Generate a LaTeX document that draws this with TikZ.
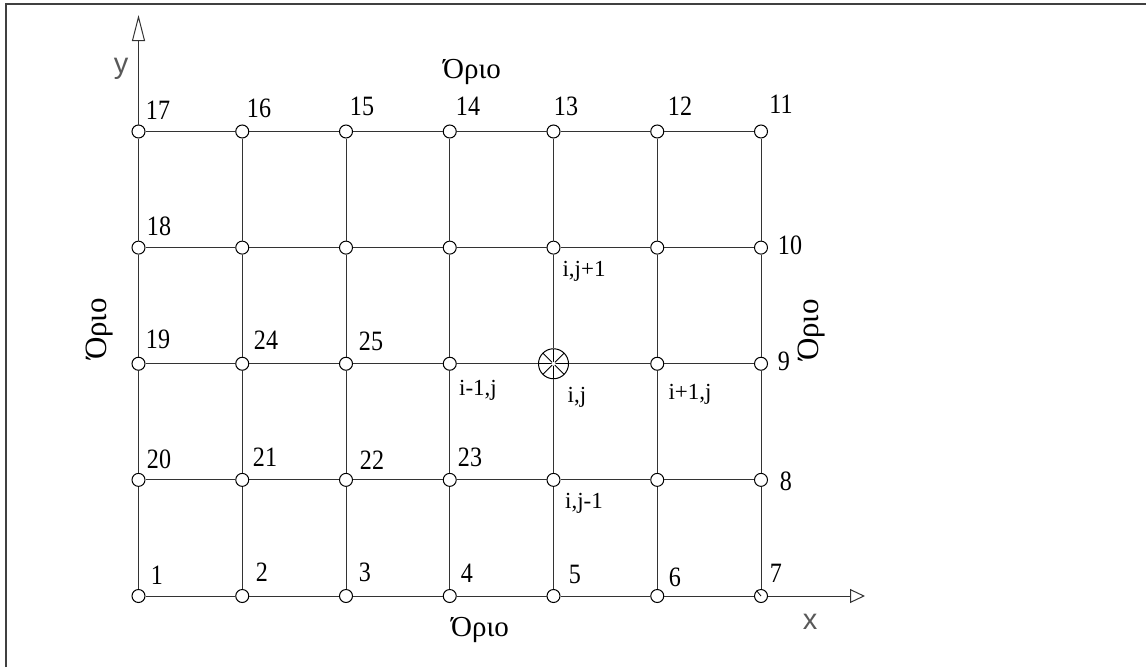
\documentclass[tikz,border=0pt]{standalone}
\usepackage{fontspec}
\setmainfont{Liberation Serif}
\newfontfamily\numfont[FakeStretch=0.86]{Liberation Serif}
\newfontfamily\axfont{Liberation Sans}
\usetikzlibrary{arrows.meta}
\begin{document}
\begin{tikzpicture}[x=1pt,y=-1pt,
  pt/.style={circle,draw,fill=white,minimum size=13pt,inner sep=0pt,line width=1pt},
  bigpt/.style={circle,draw,fill=white,minimum size=30pt,inner sep=0pt,line width=1pt,
    path picture={
      \draw[line width=0.9pt] (path picture bounding box.west) -- (path picture bounding box.east);
      \draw[line width=0.9pt] (path picture bounding box.north) -- (path picture bounding box.south);
      \draw[line width=0.8pt] (path picture bounding box.north west) -- (path picture bounding box.south east);
      \draw[line width=0.8pt] (path picture bounding box.north east) -- (path picture bounding box.south west);
      \fill (path picture bounding box.center) circle (2pt);
    }},
  gridline/.style={line width=1pt,black!80},
  num/.style={inner sep=0pt,font=\numfont\fontsize{28}{30}\selectfont},
  idx/.style={inner sep=0pt,font=\fontsize{23}{26}\selectfont},
  bound/.style={inner sep=0pt,font=\fontsize{29}{32}\selectfont},
  sidebound/.style={inner sep=0pt,rotate=90,font=\fontsize{31}{34}\selectfont},
  axlab/.style={inner sep=0pt,text=black!65,font=\axfont\fontsize{29}{32}\selectfont}]
\useasboundingbox (0,0) rectangle (1146,667);
% frame
\draw[line width=1.6pt,black!75] (5.8,667) -- (5.8,4.2) -- (1146,4.2);
% grid nodes
\foreach \i in {1,...,7}{
  \foreach \j in {1,...,5}{
    \pgfmathsetmacro\xx{138.5+103.75*(\i-1)}
    \pgfmathsetmacro\yy{131.5+116.125*(\j-1)}
    \ifnum\i\j=53
      \node[bigpt] (n-\i-\j) at (\xx,\yy) {};
    \else
      \node[pt] (n-\i-\j) at (\xx,\yy) {};
    \fi
  }
}
% horizontal lines
\foreach \j in {1,...,5}{
  \foreach \i [count=\k from 2] in {1,...,6}{
    \draw[gridline] (n-\i-\j) -- (n-\k-\j);
  }
}
% vertical lines
\foreach \i in {1,...,7}{
  \foreach \j [count=\k from 2] in {1,...,4}{
    \draw[gridline] (n-\i-\j) -- (n-\i-\k);
  }
}
% slash in node 7
\draw[line width=0.8pt] (n-7-5.center) -- (n-7-5.130);
% axes
\coordinate (ytip) at (138.5,15);
\coordinate (xtip) at (865,596);
\draw[gridline,-{Triangle[open,length=26pt,width=13pt,fill=white]}] (n-1-1) -- (ytip);
\draw[gridline,-{Triangle[open,length=15pt,width=14pt,fill=white]}] (n-7-5) -- (xtip);
\node[axlab] (ylab) at (121,69) {y};
\node[axlab] (xlab) at (810,622) {x};
% number labels
\node[num] (l17) at (158,110) {17};
\node[num] (l16) at (259,108) {16};
\node[num] (l15) at (362,106) {15};
\node[num] (l14) at (468,106) {14};
\node[num] (l13) at (566,106) {13};
\node[num] (l12) at (680,106) {12};
\node[num] (l11) at (781,104) {11};
\node[num] (l18) at (159,226) {18};
\node[num] (l10) at (790,245) {10};
\node[num] (l19) at (158,339) {19};
\node[num] (l24) at (266,340) {24};
\node[num] (l25) at (371,341) {25};
\node[num] (l9) at (784,361) {9};
\node[num] (l20) at (159,459) {20};
\node[num] (l21) at (265,457) {21};
\node[num] (l22) at (372,460) {22};
\node[num] (l23) at (470,457) {23};
\node[num] (l8) at (786,481) {8};
\node[num] (l1) at (157,575) {1};
\node[num] (l2) at (262,572) {2};
\node[num] (l3) at (365,572) {3};
\node[num] (l4) at (467,573) {4};
\node[num] (l5) at (575,574) {5};
\node[num] (l6) at (675,577) {6};
\node[num] (l7) at (776,573) {7};
% index labels
\node[idx] (ijp) at (584,271) {i,j+1};
\node[idx] (imj) at (478,390) {i-1,j};
\node[idx] (ij) at (577,397) {i,j};
\node[idx] (ipj) at (690,394) {i+1,j};
\node[idx] (ijm) at (584,503) {i,j-1};
% boundary labels
\node[bound] (btop) at (472,72) {Όριο};
\node[bound] (bbot) at (480,630) {Όριο};
\node[sidebound] (bleft) at (100,329) {Όριο};
\node[sidebound] (bright) at (812,330) {Όριο};
\end{tikzpicture}
\end{document}
